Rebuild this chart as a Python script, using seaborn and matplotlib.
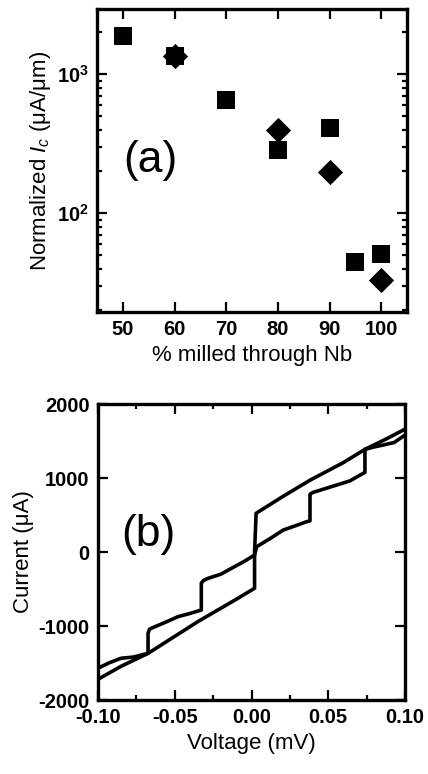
import numpy as np
import pandas as pd
import seaborn as sns
import matplotlib.pyplot as plt
from matplotlib.ticker import FixedLocator, FuncFormatter, LogLocator, NullFormatter, MultipleLocator

# (a) normalized critical current vs % milled through Nb
pct_sq = [50, 60, 70, 80, 90, 95, 100]
ic_sq = [1880, 1350, 650, 285, 410, 45, 51]
pct_dm = [60, 80, 90, 100]
ic_dm = [1350, 400, 197, 33]

# (b) I-V curve, two branches
v_smooth = [-0.100, -0.085, -0.0674, -0.0349, -0.010, 0.002, 0.002, 0.003, 0.020, 0.0381, 0.060, 0.0739, 0.088, 0.100]
i_smooth = [-1720, -1545, -1370, -940, -640, -490, 0, 523, 745, 970, 1210, 1387, 1530, 1660]

v_step = [-0.100, -0.093, -0.085, -0.077, -0.0674, -0.0674, -0.0665, -0.0653, -0.055, -0.0479, -0.040,
          -0.0327, -0.0327, -0.0310, -0.0283, -0.020, -0.0131, -0.005, 0.002, 0.0034, 0.012, 0.0207,
          0.028, 0.036, 0.0381, 0.0381, 0.040, 0.0555, 0.064, 0.0728, 0.0739, 0.0739, 0.080, 0.0859,
          0.093, 0.100]
i_step = [-1571, -1500, -1436, -1420, -1369, -1100, -1045, -1031, -940, -874, -830,
          -784, -420, -380, -356, -300, -221, -130, -41, 72, 180, 297,
          350, 410, 420, 780, 805, 905, 960, 1063, 1075, 1387, 1420, 1446,
          1480, 1581]

sns.set_theme(style="ticks")
plt.rcParams["font.family"] = ["Liberation Sans", "DejaVu Sans"]
plt.rcParams["mathtext.fontset"] = "custom"
plt.rcParams["mathtext.rm"] = "Liberation Sans"
plt.rcParams["mathtext.it"] = "Liberation Sans:italic"
plt.rcParams["mathtext.bf"] = "Liberation Sans:bold"
plt.rcParams["text.color"] = "black"
plt.rcParams["axes.labelcolor"] = "black"

fig = plt.figure(figsize=(4.28, 7.74), dpi=100)
ax1 = fig.add_axes([97 / 428, 1 - 312 / 774, 310 / 428, 303 / 774])
ax2 = fig.add_axes([98 / 428, 1 - 700 / 774, 307 / 428, 296 / 774])

for ax in (ax1, ax2):
    for sp in ax.spines.values():
        sp.set_linewidth(2.4)
        sp.set_color("black")
    ax.tick_params(which="both", direction="in", top=True, right=True, colors="black",
                   labelsize=14.5, width=1.6)
    ax.tick_params(which="major", length=7, pad=6)
    ax.tick_params(which="minor", length=3.5)

# ---- panel (a)
sq = pd.DataFrame({"pct": pct_sq, "ic": ic_sq})
dm = pd.DataFrame({"pct": pct_dm, "ic": ic_dm})
sns.scatterplot(data=sq, x="pct", y="ic", marker="s", s=150, color="black", linewidth=0, ax=ax1)
sns.scatterplot(data=dm, x="pct", y="ic", marker="D", s=165, color="black", linewidth=0, ax=ax1)
ax1.set_yscale("log")
ax1.set_xlim(45, 105)
ax1.set_ylim(19.5, 2950)
ax1.xaxis.set_major_locator(FixedLocator([50, 60, 70, 80, 90, 100]))
ax1.yaxis.set_major_locator(FixedLocator([100, 1000]))
ax1.yaxis.set_major_formatter(FuncFormatter(lambda v, p: r"$\mathbf{10^{%d}}$" % round(np.log10(v))))
ax1.yaxis.set_minor_locator(LogLocator(base=10, subs=np.arange(2, 10)))
ax1.yaxis.set_minor_formatter(NullFormatter())
ax1.set_xlabel("% milled through Nb", fontsize=16, labelpad=4)
ax1.set_ylabel(r"Normalized $I_c$ (μA/μm)", fontsize=16, labelpad=3)
ax1.text(55.3, 240, "(a)", fontsize=32, ha="center", va="center")
for lab in ax1.get_xticklabels() + ax1.get_yticklabels():
    lab.set_fontweight("bold")

# ---- panel (b)
sm = pd.DataFrame({"v": v_smooth, "i": i_smooth})
st = pd.DataFrame({"v": v_step, "i": i_step})
sns.lineplot(data=sm, x="v", y="i", sort=False, estimator=None, color="black", linewidth=2.6, ax=ax2)
sns.lineplot(data=st, x="v", y="i", sort=False, estimator=None, color="black", linewidth=2.6, ax=ax2)
ax2.set_xlim(-0.1, 0.1)
ax2.set_ylim(-2000, 2000)
ax2.xaxis.set_major_locator(MultipleLocator(0.05))
ax2.xaxis.set_minor_locator(MultipleLocator(0.025))
ax2.xaxis.set_major_formatter(FuncFormatter(lambda v, p: "%.2f" % v))
ax2.yaxis.set_major_locator(MultipleLocator(1000))
ax2.yaxis.set_major_formatter(FuncFormatter(lambda v, p: "%d" % v))
ax2.set_xlabel("Voltage (mV)", fontsize=16, labelpad=4)
ax2.set_ylabel("Current (μA)", fontsize=16, labelpad=3)
ax2.text(-0.0674, 230, "(b)", fontsize=32, ha="center", va="center")
for lab in ax2.get_xticklabels() + ax2.get_yticklabels():
    lab.set_fontweight("bold")

fig.savefig("out.png", dpi=100)
